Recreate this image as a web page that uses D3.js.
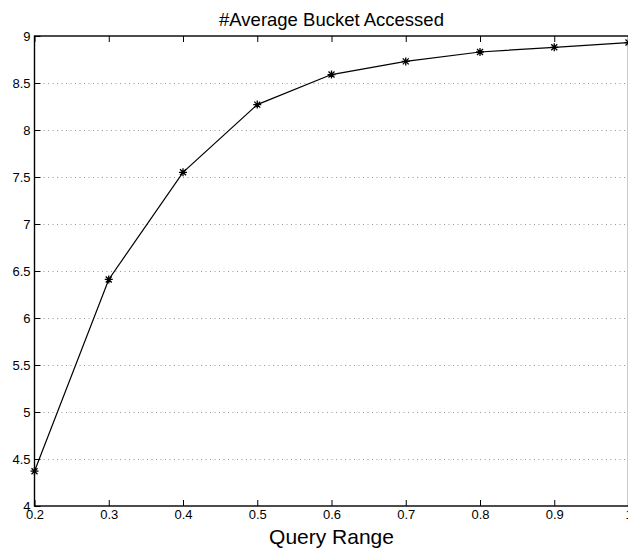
<!DOCTYPE html>
<html>
<head>
<meta charset="utf-8">
<script src="https://cdn.jsdelivr.net/npm/d3@7"></script>
<style>
  body { margin: 0; background: #fff; }
  svg { display: block; font-family: "Liberation Sans", Arial, sans-serif; }
</style>
</head>
<body>
<div id="chart"></div>
<script>
// --- data ---
const queryRange = [0.2, 0.3, 0.4, 0.5, 0.6, 0.7, 0.8, 0.9, 1.0];
const avgBuckets = [4.37, 6.41, 7.55, 8.27, 8.59, 8.73, 8.83, 8.88, 8.93];
const xTicks = [0.2, 0.3, 0.4, 0.5, 0.6, 0.7, 0.8, 0.9, 1];
const yTicks = [4, 4.5, 5, 5.5, 6, 6.5, 7, 7.5, 8, 8.5, 9];

// --- layout ---
const W = 628, H = 549;
const M = { top: 36, right: -0.5, bottom: 42, left: 34.5 };
const iw = W - M.left - M.right;
const ih = H - M.top - M.bottom - 1;
const TICK = 6;

const svg = d3.select("#chart").append("svg")
    .attr("width", W)
    .attr("height", H);

const g = svg.append("g")
    .attr("transform", `translate(${M.left},${M.top})`);

const x = d3.scaleLinear().domain([0.2, 1]).range([0, iw]);
const y = d3.scaleLinear().domain([4, 9]).range([ih, 0]);

// dotted grid (horizontal only, as in the reference)
g.append("g")
    .selectAll("line")
    .data(yTicks.slice(1, -1))
    .join("line")
    .attr("x1", 0)
    .attr("x2", iw)
    .attr("y1", d => Math.round(y(d)) + 0.5)
    .attr("y2", d => Math.round(y(d)) + 0.5)
    .attr("stroke", "#999")
    .attr("stroke-width", 1)
    .attr("stroke-dasharray", "1,3.5");

// bottom axis, ticks pointing inward
const xAxis = g.append("g")
    .attr("transform", `translate(0,${ih})`)
    .call(d3.axisBottom(x).tickValues(xTicks).tickSize(-TICK).tickPadding(TICK + 4)
        .tickFormat(d => d === 1 ? "1" : d3.format(".1f")(d)));
xAxis.select(".domain").remove();
xAxis.selectAll("line").attr("stroke", "#000");
xAxis.selectAll("text")
    .attr("fill", "#000")
    .style("font-size", "13px")
    .attr("dy", "0.2em");

// top ticks
const xTop = g.append("g")
    .call(d3.axisTop(x).tickValues(xTicks).tickSize(-TICK).tickFormat(""));
xTop.select(".domain").remove();
xTop.selectAll("line").attr("stroke", "#000");

// left axis
const yAxis = g.append("g")
    .call(d3.axisLeft(y).tickValues(yTicks).tickSize(-TICK).tickPadding(4)
        .tickFormat(d => String(d)));
yAxis.select(".domain").remove();
yAxis.selectAll("line").attr("stroke", "#000");
yAxis.selectAll("text")
    .attr("fill", "#000")
    .style("font-size", "13px");

// plot box
g.append("rect")
    .attr("x", 0)
    .attr("y", 0)
    .attr("width", iw)
    .attr("height", ih)
    .attr("fill", "none")
    .attr("stroke", "#000")
    .attr("stroke-width", 1.4);

// line
const pts = queryRange.map((q, i) => ({ q: q, v: avgBuckets[i] }));

g.append("path")
    .datum(pts)
    .attr("fill", "none")
    .attr("stroke", "#000")
    .attr("stroke-width", 1.2)
    .attr("d", d3.line().x(d => x(d.q)).y(d => y(d.v)));

// asterisk markers (+ and x)
const r = 4, rd = r * 0.75;
const star = `M${-r},0L${r},0M0,${-r}L0,${r}M${-rd},${-rd}L${rd},${rd}M${-rd},${rd}L${rd},${-rd}`;
g.append("g")
    .selectAll("path")
    .data(pts)
    .join("path")
    .attr("transform", d => `translate(${x(d.q)},${y(d.v)})`)
    .attr("d", star)
    .attr("fill", "none")
    .attr("stroke", "#000")
    .attr("stroke-width", 1.3);

// title and axis label
svg.append("text")
    .attr("x", M.left + iw / 2)
    .attr("y", 26)
    .attr("text-anchor", "middle")
    .style("font-size", "18.5px")
    .text("#Average Bucket Accessed");

svg.append("text")
    .attr("x", M.left + iw / 2)
    .attr("y", 544)
    .attr("text-anchor", "middle")
    .style("font-size", "21px")
    .text("Query Range");
</script>
</body>
</html>
